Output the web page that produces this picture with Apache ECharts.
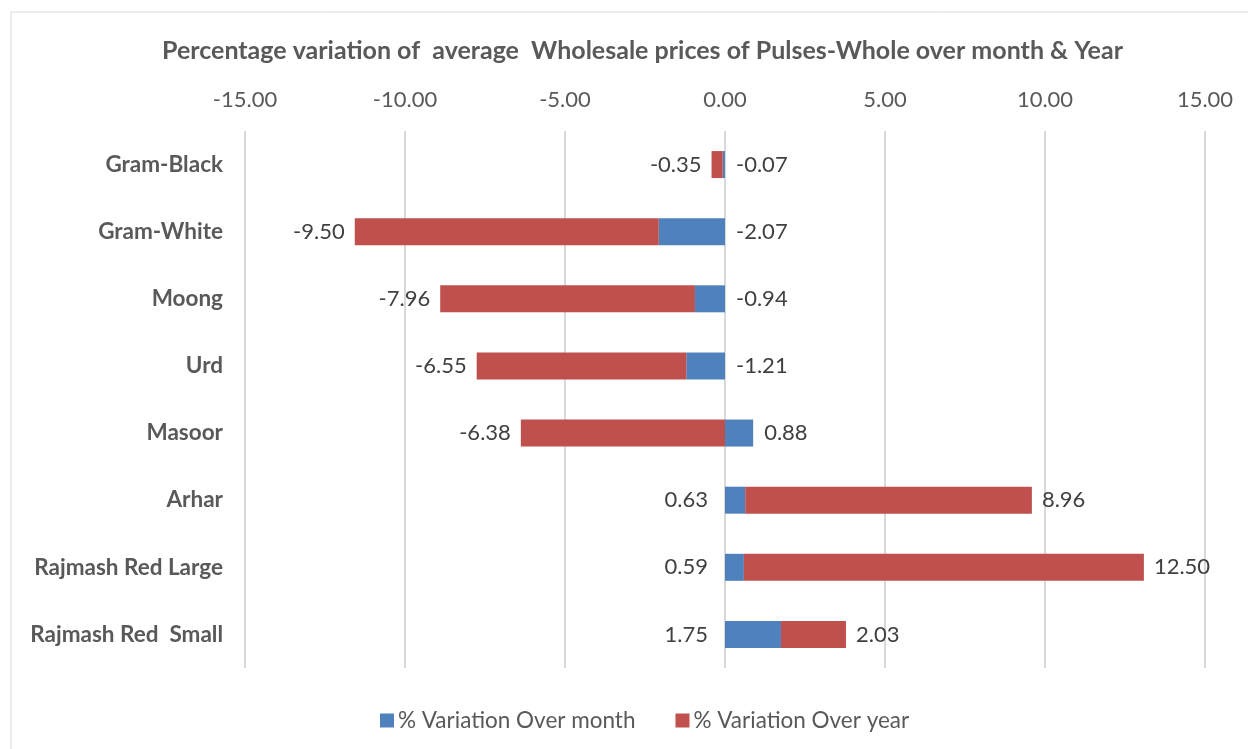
<!DOCTYPE html>
<html>
<head>
<meta charset="utf-8">
<script src="https://cdn.jsdelivr.net/npm/echarts@6/dist/echarts.min.js"></script>
<style>
  html, body { margin: 0; padding: 0; background: #fff; }
  #chart { width: 1248px; height: 749px; }
</style>
</head>
<body>
<div id="chart"></div>
<script>
var categories = ['Gram-Black', 'Gram-White', 'Moong', 'Urd', 'Masoor', 'Arhar', 'Rajmash Red Large', 'Rajmash Red  Small'];
var overMonth = [-0.07, -2.07, -0.94, -1.21, 0.88, 0.63, 0.59, 1.75];
var overYear = [-0.35, -9.50, -7.96, -6.55, -6.38, 8.96, 12.50, 2.03];
var tickValues = [-15, -10, -5, 0, 5, 10, 15];

// label placement as in the original sheet
var monthPos = ['right', 'right', 'right', 'right', 'right', 'left', 'left', 'left'];

var font = 'Lato, "Open Sans", sans-serif';
var myChart = echarts.init(document.getElementById('chart'));

function withLabels(values, posFn, distFn) {
    return values.map(function (v, i) {
        var pos = posFn(v, i);
        return {
            value: v,
            label: { position: pos, distance: distFn(pos) }
        };
    });
}

var option = {
    backgroundColor: '#fff',
    graphic: [{
        type: 'rect',
        shape: { x: 11, y: 12, width: 1300, height: 800 },
        style: { fill: 'none', stroke: '#d9d9d9', lineWidth: 1 },
        silent: true
    }],
    title: {
        text: 'Percentage variation of  average  Wholesale prices of Pulses-Whole over month & Year',
        left: 157,
        top: 33,
        textStyle: { fontFamily: font, fontSize: 25, fontWeight: 'bold', color: '#595959' }
    },
    legend: {
        bottom: 12,
        left: 375,
        itemWidth: 14,
        itemHeight: 14,
        itemGap: 40,
        icon: 'rect',
        textStyle: { fontFamily: font, fontSize: 22.5, color: '#595959', padding: [0, 0, 0, -1] },
        data: ['% Variation Over month', '% Variation Over year']
    },
    grid: { left: 245, right: 43, top: 131, bottom: 81 },
    xAxis: {
        type: 'value',
        position: 'top',
        min: tickValues[0],
        max: tickValues[tickValues.length - 1],
        interval: 5,
        axisLine: { show: false },
        axisTick: { show: false },
        axisLabel: {
            fontFamily: font, fontSize: 22, color: '#595959', margin: 20,
            formatter: function (v) { return v.toFixed(2); }
        },
        splitLine: { lineStyle: { color: '#d9d9d9', width: 2 } }
    },
    yAxis: {
        type: 'category',
        inverse: true,
        data: categories,
        axisLine: { show: false },
        axisTick: { show: false },
        axisLabel: { fontFamily: font, fontSize: 22.5, fontWeight: 'bold', color: '#595959', margin: 22 }
    },
    series: [
        {
            name: '% Variation Over month',
            type: 'bar',
            stack: 'total',
            barWidth: 27,
            itemStyle: { color: '#4f81bd' },
            label: {
                show: true, fontFamily: font, fontSize: 22, color: '#404040',
                formatter: function (p) { return p.value.toFixed(2); }
            },
            data: withLabels(overMonth, function (v, i) { return monthPos[i]; },
                function (pos) { return pos === 'left' ? 17 : 11; })
        },
        {
            name: '% Variation Over year',
            type: 'bar',
            stack: 'total',
            barWidth: 27,
            itemStyle: { color: '#c0504d' },
            label: {
                show: true, fontFamily: font, fontSize: 22, color: '#404040',
                formatter: function (p) { return p.value.toFixed(2); }
            },
            data: withLabels(overYear, function (v) { return v < 0 ? 'left' : 'right'; },
                function () { return 10; })
        }
    ]
};
myChart.setOption(option);
</script>
</body>
</html>
